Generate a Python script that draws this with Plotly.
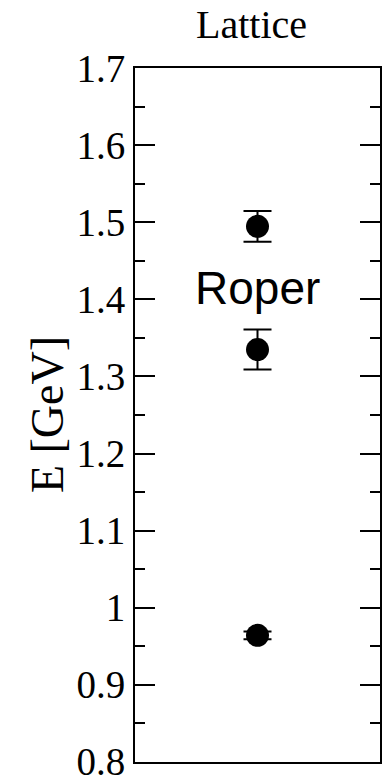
import plotly.graph_objects as go

# Data
x_pos = [0.5, 0.5, 0.5]
energies = [1.495, 1.335, 0.964]
errors = [0.020, 0.026, 0.005]
tick_vals = [0.8, 0.9, 1.0, 1.1, 1.2, 1.3, 1.4, 1.5, 1.6, 1.7]
tick_text = ["0.8", "0.9", "1", "1.1", "1.2", "1.3", "1.4", "1.5", "1.6", "1.7"]
title_text = "Lattice"
ylabel = "E [GeV]"
state_label = "Roper"
state_y = 1.415

fig = go.Figure()
fig.add_trace(go.Scatter(
    x=x_pos, y=energies, mode="markers",
    marker=dict(color="black", size=23),
    error_y=dict(type="data", array=errors, visible=True, color="black",
                 thickness=2, width=14),
    showlegend=False,
))

fig.add_annotation(x=0.5, y=state_y, xref="x", yref="y", text=state_label,
                   showarrow=False, font=dict(family="Liberation Sans", size=46, color="black"),
                   xanchor="center", yanchor="middle")
fig.add_annotation(x=0.476, y=1.0, xref="paper", yref="paper", yshift=44, text=title_text,
                   showarrow=False, font=dict(family="Liberation Serif", size=40, color="black"),
                   xanchor="center", yanchor="middle")
fig.add_annotation(x=-0.359, y=0.5, xref="paper", yref="paper", text=ylabel, textangle=-90,
                   showarrow=False, font=dict(family="Liberation Serif", size=46, color="black"),
                   xanchor="center", yanchor="middle")

fig.update_layout(
    width=391, height=776,
    margin=dict(l=135, r=11, t=68, b=14),
    plot_bgcolor="white", paper_bgcolor="white",
    font=dict(family="Liberation Serif", color="black"),
)
fig.update_xaxes(range=[0, 1], showticklabels=False, ticks="", showgrid=False,
                 zeroline=False, showline=True, linecolor="black", linewidth=2, mirror=True)
fig.update_yaxes(range=[0.7995, 1.7005], tickvals=tick_vals, ticktext=tick_text,
                 ticks="inside", ticklen=20, tickwidth=2, tickcolor="black",
                 tickfont=dict(family="Liberation Serif", size=39, color="black"),
                 ticklabeloverflow="allow", automargin=False,
                 showgrid=False, zeroline=False, showline=True, linecolor="black",
                 linewidth=2, mirror="ticks",
                 minor=dict(dtick=0.05, ticks="inside", ticklen=10, tickwidth=2,
                            tickcolor="black", showgrid=False))

fig.write_html("out.html")
